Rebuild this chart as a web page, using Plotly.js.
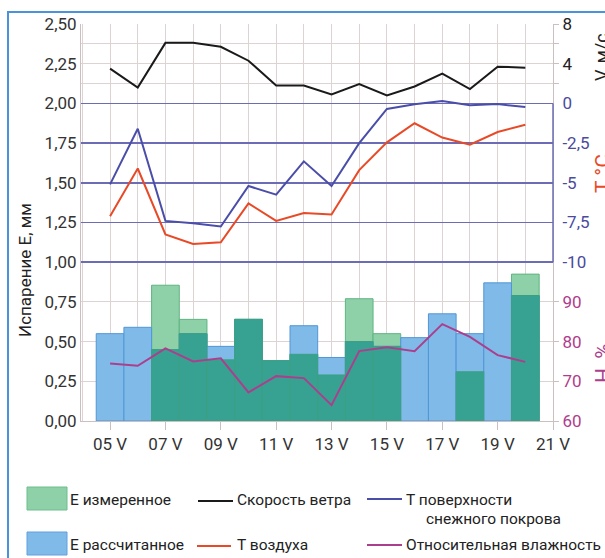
<!DOCTYPE html>
<html>
<head>
<meta charset="utf-8">
<script src="https://cdn.plot.ly/plotly-3.0.1.min.js"></script>
<style>
html,body{margin:0;padding:0;background:#fff;}
#chart{width:605px;height:558px;}
</style>
</head>
<body>
<div id="chart"></div>
<script>
// ---- data ----
var days = [5,6,7,8,9,10,11,12,13,14,15,16,17,18,19,20];
var eCalc = [0.55,0.59,0.45,0.55,0.47,0.64,0.38,0.60,0.40,0.50,0.47,0.525,0.675,0.55,0.87,0.79];
var eMeas = [null,null,0.855,0.64,0.385,0.64,0.38,0.42,0.29,0.77,0.55,null,null,0.31,null,0.925];
var windSpeed = [3.5,1.6,6.1,6.1,5.7,4.3,1.8,1.8,0.9,1.95,0.8,1.7,3.0,1.45,3.7,3.6];
var snowT = [-5.1,-1.6,-7.4,-7.55,-7.75,-5.2,-5.75,-3.65,-5.2,-2.5,-0.35,-0.05,0.15,-0.12,-0.04,-0.23];
var airT = [-7.1,-4.1,-8.25,-8.85,-8.75,-6.3,-7.4,-6.9,-7.0,-4.2,-2.45,-1.25,-2.15,-2.6,-1.8,-1.35];
var humidity = [74.5,73.9,78.3,75.0,75.8,67.2,71.3,70.8,64.0,77.6,78.6,77.6,84.4,81.2,76.6,74.9];

var xTickVals = [5,7,9,11,13,15,17,19,21];
var xTickText = ['05 V','07 V','09 V','11 V','13 V','15 V','17 V','19 V','21 V'];
var eTickVals = [0,0.25,0.5,0.75,1,1.25,1.5,1.75,2,2.25,2.5];
var eTickText = ['0,00','0,25','0,50','0,75','1,00','1,25','1,50','1,75','2,00','2,25','2,50'];
var vTickVals = [2,4,6,8];
var vTickText = ['','4','','8'];
var tTickVals = [0,-2.5,-5,-7.5,-10];
var tTickText = ['0','-2,5','-5','-7,5','-10'];
var hTickVals = [60,70,80,90];
var hTickText = ['60','70','80','90'];

// ---- styles ----
var FONT = 'Roboto, "Open Sans", sans-serif';
var GRID = '#ddd3d3';
var AXL = '#cbbfbf';
var BLUEGRID = '#6c6cb6';
var C_GREEN = 'rgb(142,208,168)';
var C_BLUE = 'rgb(128,186,232)';
var C_TEAL = 'rgb(55,162,146)';
var C_BLACK = '#1a1a1a';
var C_SNOW = '#4a4ea8';
var C_AIR = '#e84a28';
var C_HUM = '#ab3f8e';

var overlap = eCalc.map(function(v,i){ return eMeas[i]===null ? null : Math.min(v, eMeas[i]); });

var traces = [
  {type:'bar', x:days, y:eMeas, width:1, marker:{color:C_GREEN, line:{color:'rgb(95,180,130)', width:1}}, name:'Е измеренное', hoverinfo:'skip'},
  {type:'bar', x:days, y:eCalc, width:1, marker:{color:C_BLUE, line:{color:'rgb(80,150,215)', width:1}}, name:'Е рассчитанное', hoverinfo:'skip'},
  {type:'bar', x:days, y:overlap, width:1, marker:{color:C_TEAL, line:{color:'rgb(60,160,130)', width:1}}, name:'overlap', hoverinfo:'skip'},
  {type:'scatter', mode:'lines', x:days, y:humidity, yaxis:'y4', line:{color:C_HUM, width:2}, name:'Относительная влажность'},
  {type:'scatter', mode:'lines', x:days, y:airT, yaxis:'y3', line:{color:C_AIR, width:2}, name:'Т воздуха'},
  {type:'scatter', mode:'lines', x:days, y:snowT, yaxis:'y3', line:{color:C_SNOW, width:2}, name:'Т поверхности снежного покрова'},
  {type:'scatter', mode:'lines', x:days, y:windSpeed, yaxis:'y2', line:{color:C_BLACK, width:2}, name:'Скорость ветра'}
];

// pixel helpers (plot area: l=81, t=24, w=472, h=397)
function PX(px){ return (px-81)/472; }
function PY(py){ return (421-py)/397; }

var shapes = [
  // outer frame
  {type:'rect', xref:'paper', yref:'paper', x0:PX(8), x1:PX(640), y0:PY(600), y1:PY(12), line:{color:'#4a93da', width:2}},
  // blue right border of temperature box
  {type:'line', xref:'paper', yref:'y', x0:1, x1:1, y0:1, y1:2, line:{color:BLUEGRID, width:1.5}},
  // legend swatches
  {type:'rect', xref:'paper', yref:'paper', x0:PX(27), x1:PX(67), y0:PY(510), y1:PY(487), fillcolor:C_GREEN, line:{color:'rgb(110,190,140)', width:1}},
  {type:'rect', xref:'paper', yref:'paper', x0:PX(27), x1:PX(67), y0:PY(555), y1:PY(532), fillcolor:C_BLUE, line:{color:'rgb(95,160,220)', width:1}},
  {type:'line', xref:'paper', yref:'paper', x0:PX(198), x1:PX(233), y0:PY(501), y1:PY(501), line:{color:C_BLACK, width:2}},
  {type:'line', xref:'paper', yref:'paper', x0:PX(367), x1:PX(402), y0:PY(499), y1:PY(499), line:{color:C_SNOW, width:2}},
  {type:'line', xref:'paper', yref:'paper', x0:PX(197), x1:PX(231), y0:PY(546), y1:PY(546), line:{color:C_AIR, width:2}},
  {type:'line', xref:'paper', yref:'paper', x0:PX(367), x1:PX(402), y0:PY(545), y1:PY(545), line:{color:C_HUM, width:2}}
];

function legText(txt, px, py){
  return {text:txt, xref:'paper', yref:'paper', x:PX(px), y:PY(py), xanchor:'left', yanchor:'middle', showarrow:false, font:{family:FONT, size:15.5, color:'#222'}};
}

var annotations = [
  legText('Е измеренное', 68, 500),
  legText('Скорость ветра', 235, 500),
  legText('Т поверхности', 404, 500),
  legText('снежного покрова', 424, 519),
  legText('Е рассчитанное', 68, 545),
  legText('Т воздуха', 235, 545),
  legText('Относительная влажность', 404, 545),
  {text:'Испарение Е, мм', xref:'paper', yref:'paper', x:PX(25), y:PY(270), textangle:-90, showarrow:false, xanchor:'center', yanchor:'middle', font:{family:FONT, size:17, color:'#222'}},
  {text:'V, м/с', xref:'paper', yref:'paper', x:PX(601), y:PY(57), textangle:-90, showarrow:false, xanchor:'center', yanchor:'middle', font:{family:FONT, size:18, color:'#222'}},
  {text:'Т °С', xref:'paper', yref:'paper', x:PX(603), y:PY(174), textangle:-90, showarrow:false, xanchor:'center', yanchor:'middle', font:{family:FONT, size:21, color:C_AIR}},
  {text:'Н, %', xref:'paper', yref:'paper', x:PX(603), y:PY(363), textangle:-90, showarrow:false, xanchor:'center', yanchor:'middle', font:{family:FONT, size:21, color:C_HUM}}
];

var tickFont = {family:FONT, size:17, color:'#333'};

var layout = {
  width:605, height:558,
  margin:{l:81, r:52, t:24, b:137, pad:0},
  paper_bgcolor:'#fff', plot_bgcolor:'#fff',
  showlegend:false, barmode:'overlay', bargap:0,
  font:{family:FONT},
  xaxis:{range:[3.95,21], tickmode:'array', tickvals:xTickVals, ticktext:xTickText,
    ticks:'outside', ticklen:8, tickcolor:AXL, showline:true, linecolor:AXL, linewidth:1,
    showgrid:true, gridcolor:GRID, zeroline:false, tickfont:tickFont,
    minor:{tickmode:'linear', tick0:0, dtick:1, showgrid:true, gridcolor:GRID, ticks:''}},
  yaxis:{range:[0,2.5], tickmode:'array', tickvals:eTickVals, ticktext:eTickText,
    showline:true, linecolor:AXL, showgrid:true, gridcolor:GRID, zeroline:false, ticks:'', tickfont:tickFont},
  yaxis2:{overlaying:'y', side:'right', anchor:'x', range:[-32,8], tickmode:'array', tickvals:vTickVals, ticktext:vTickText,
    ticks:'outside', ticklen:5, tickcolor:AXL, showline:true, linecolor:AXL, showgrid:true, gridcolor:GRID, zeroline:false,
    tickfont:{family:FONT, size:17, color:'#222'}},
  yaxis3:{overlaying:'y', side:'right', anchor:'x', range:[-20,5], tickmode:'array', tickvals:tTickVals, ticktext:tTickText,
    ticks:'outside', ticklen:5, tickcolor:'rgba(0,0,0,0)', showline:false, showgrid:true, gridcolor:BLUEGRID, gridwidth:1.5, zeroline:false,
    tickfont:{family:FONT, size:17, color:'#4a4a9e'}},
  yaxis4:{overlaying:'y', side:'right', anchor:'x', range:[60,160], tickmode:'array', tickvals:hTickVals, ticktext:hTickText,
    ticks:'outside', ticklen:5, tickcolor:AXL, showline:false, showgrid:false, zeroline:false,
    tickfont:{family:FONT, size:17, color:'#b03c8c'}},
  shapes:shapes,
  annotations:annotations
};

Plotly.newPlot('chart', traces, layout, {staticPlot:true, displayModeBar:false});
</script>
</body>
</html>
